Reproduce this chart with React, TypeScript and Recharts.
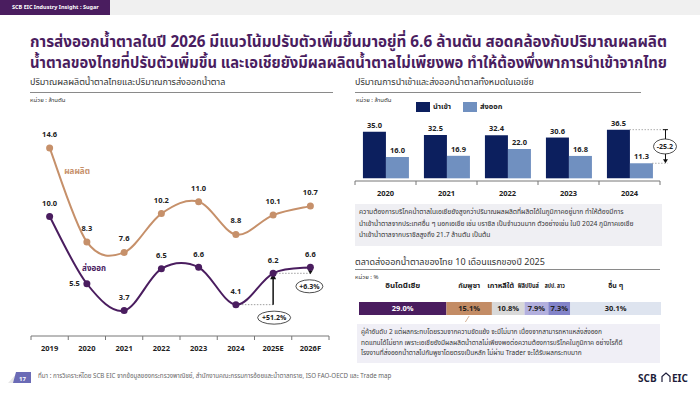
import React from 'react';
import { LineChart, Line, XAxis, YAxis, LabelList, ReferenceLine, BarChart, Bar } from 'recharts';

// ---------- DATA ----------
const years = ['2019', '2020', '2021', '2022', '2023', '2024', '2025E', '2026F'];
const production = [14.6, 8.3, 7.6, 10.2, 11.0, 8.8, 10.1, 10.7];
const exportsTH = [10.0, 5.5, 3.7, 6.5, 6.6, 4.1, 6.2, 6.6];

const asiaYears = ['2020', '2021', '2022', '2023', '2024'];
const asiaImport = [35.0, 32.5, 32.4, 30.6, 36.5];
const asiaExport = [16.0, 16.9, 22.0, 16.8, 11.3];

const marketKeys = ['indo', 'cambodia', 'korea', 'philippines', 'laos', 'others'];
const marketNames = ['อินโดนีเซีย', 'กัมพูชา', 'เกาหลีใต้', 'ฟิลิปปินส์', 'สปป. ลาว', 'อื่น ๆ'];
const marketShares = [29.0, 15.1, 10.8, 7.9, 7.3, 30.1];

// ---------- STYLE ----------
const FONT = "'Noto Sans Thai', 'Noto Sans Thai UI', 'Noto Sans', 'DejaVu Sans', sans-serif";
const PURPLE = '#4a1d5f';
const TAN = '#c6906a';
const NAVY = '#0c1f5e';
const LBLUE = '#7090c0';
const marketColors = ['#4a1d5f', '#c38c65', '#d9d9d9', '#b3b0de', '#8384c9', '#dee4ef'];
const marketText = ['#ffffff', '#222', '#222', '#222', '#222', '#222'];
const marketNameWidth = [35, 22, 27, 21, 20, 15];
const marketNameSize = [7.5, 7.5, 7.5, 7, 7, 7.5];
const marketDx = [0, 0, -7.5, -8, -4.5, 0];

const lineData = years.map((y, i) => ({ year: y, production: production[i], exports: exportsTH[i] }));
const asiaData = asiaYears.map((y, i) => ({ year: y, imp: asiaImport[i], exp: asiaExport[i] }));
const marketRow: any = { name: '2025' };
marketKeys.forEach((k, i) => (marketRow[k] = marketShares[i]));
const marketData = [marketRow];

// chart geometry constants
const LC = { w: 340, h: 270, m: { top: 27, right: 11, bottom: 4, left: 31 } };
const LC_BAND = (LC.w - LC.m.left - LC.m.right) / years.length;
const BC = { w: 340, h: 95, m: { top: 15, right: 20, bottom: 0, left: 15 } };
const BC_BAND = (BC.w - BC.m.left - BC.m.right) / asiaYears.length;

// Catmull-Rom style smoothing (like office smoothed lines)
const smoothCurve: any = (context: any) => {
  let pts: number[][] = [];
  return {
    areaStart() {},
    areaEnd() {},
    lineStart() { pts = []; },
    point(x: number, y: number) { pts.push([+x, +y]); },
    lineEnd() {
      const n = pts.length;
      if (!n) return;
      context.moveTo(pts[0][0], pts[0][1]);
      const t = 1 / 6;
      for (let i = 0; i < n - 1; i++) {
        const p0 = pts[i - 1] || pts[i];
        const p1 = pts[i];
        const p2 = pts[i + 1];
        const p3 = pts[i + 2] || p2;
        context.bezierCurveTo(
          p1[0] + (p2[0] - p0[0]) * t, p1[1] + (p2[1] - p0[1]) * t,
          p2[0] - (p3[0] - p1[0]) * t, p2[1] - (p3[1] - p1[1]) * t,
          p2[0], p2[1]
        );
      }
    },
  };
};

const boundaryTick = (band: number, count: number, dy: number, stroke: string) => (props: any) => {
  const { x, y, payload, index } = props;
  return (
    <g>
      <line x1={x - band / 2} y1={y} x2={x - band / 2} y2={y + 4} stroke={stroke} strokeWidth={1} />
      {index === count - 1 && <line x1={x + band / 2} y1={y} x2={x + band / 2} y2={y + 4} stroke={stroke} strokeWidth={1} />}
      <text x={x} y={y + dy} textAnchor="middle" fontSize={7.5} fontWeight={700} fill="#222" fontFamily={FONT}>
        {payload.value}
      </text>
    </g>
  );
};

const lineLabel = (lift: number, leftIdx: number) => (props: any) => {
  const { x, y, value, index } = props;
  if (index === leftIdx) {
    return (
      <text x={x - 7} y={y + 2.7} textAnchor="end" fontSize={7.5} fontWeight={700} fill="#222" fontFamily={FONT}>
        {Number(value).toFixed(1)}
      </text>
    );
  }
  return (
    <text x={x} y={y - lift} textAnchor="middle" fontSize={7.5} fontWeight={700} fill="#222" fontFamily={FONT}>
      {Number(value).toFixed(1)}
    </text>
  );
};

const badge = (cx: number, cy: number, rx: number, ry: number, label: string) => (
  <g>
    <ellipse cx={cx} cy={cy} rx={rx} ry={ry} fill="#fff" stroke="#222" strokeWidth={0.8} />
    <text x={cx} y={cy + 2.5} textAnchor="middle" fontSize={7} fontWeight={700} fill="#222" fontFamily={FONT}>
      {label}
    </text>
  </g>
);

// arrow from bottom pointing up, badge below bottom
const upArrow = (label: string, rx: number) => (p: any) => {
  const x = p.x1;
  const yb = Math.max(p.y1, p.y2);
  const yt = Math.min(p.y1, p.y2);
  return (
    <g>
      <line x1={x} y1={yb} x2={x} y2={yt + 5} stroke="#111" strokeWidth={1.5} />
      <path d={`M${x - 3},${yt + 6} L${x},${yt} L${x + 3},${yt + 6} Z`} fill="#111" />
      {badge(x + 1, yb + 13, rx, 6.5, label)}
    </g>
  );
};

const downArrowShort = (label: string, rx: number) => (p: any) => {
  const x = p.x1;
  const yb = Math.max(p.y1, p.y2);
  const yt = Math.min(p.y1, p.y2);
  return (
    <g>
      <line x1={x} y1={yt} x2={x} y2={yb - 2} stroke="#111" strokeWidth={1.2} />
      <path d={`M${x - 2.5},${yb - 3} L${x},${yb + 1} L${x + 2.5},${yb - 3} Z`} fill="#111" />
      {badge(x - 1, yb + 13, rx, 6.5, label)}
    </g>
  );
};

const gapAnnotation = (label: string) => (p: any) => {
  const xc = p.x1;
  const yt = Math.min(p.y1, p.y2);
  const yb = Math.max(p.y1, p.y2);
  const half = BC_BAND * 0.37;
  const ax = xc + BC_BAND * 0.59;
  return (
    <g>
      <line x1={xc} y1={yt} x2={ax + 2} y2={yt} stroke="#999" strokeWidth={0.8} strokeDasharray="1.5 1.5" />
      <line x1={xc + half} y1={yb} x2={ax + 2} y2={yb} stroke="#999" strokeWidth={0.8} strokeDasharray="1.5 1.5" />
      <line x1={ax - 2.5} y1={yt} x2={ax + 2.5} y2={yt} stroke="#111" strokeWidth={1} />
      <line x1={ax} y1={yt} x2={ax} y2={yb - 3} stroke="#111" strokeWidth={1} />
      <path d={`M${ax - 2.5},${yb - 4} L${ax},${yb} L${ax + 2.5},${yb - 4} Z`} fill="#111" />
      {badge(ax - 0.5, (yt + yb) / 2, 11.5, 7.5, label)}
    </g>
  );
};

const marketLabel = (i: number) => (props: any) => {
  const { x, y, width, height } = props;
  const cx = x + width / 2;
  const nx = cx + marketDx[i];
  const w = marketNameWidth[i];
  return (
    <g>
      <text x={cx} y={y + height / 2 + 2.8} textAnchor="middle" fontSize={7.5} fontWeight={700} fill={marketText[i]} fontFamily={FONT}>
        {marketShares[i].toFixed(1)}%
      </text>
      <text x={nx - w / 2} y={y - 14} fontSize={marketNameSize[i]} fontWeight={700} fill="#222" fontFamily={FONT}
        textLength={w} lengthAdjust="spacingAndGlyphs">
        {marketNames[i]}
      </text>
      {i === 1 && <line x1={cx} y1={y + height + 1} x2={cx - 7} y2={y + height + 12} stroke={marketColors[1]} strokeWidth={0.7} />}
    </g>
  );
};

const abs = (left: number, top: number, extra: React.CSSProperties = {}): React.CSSProperties => ({
  position: 'absolute', left, top, ...extra,
});

const titleLines = [
  'การส่งออกน้ำตาลในปี 2026 มีแนวโน้มปรับตัวเพิ่มขึ้นมาอยู่ที่ 6.6 ล้านตัน สอดคล้องกับปริมาณผลผลิต',
  'น้ำตาลของไทยที่ปรับตัวเพิ่มขึ้น และเอเชียยังมีผลผลิตน้ำตาลไม่เพียงพอ ทำให้ต้องพึ่งพาการนำเข้าจากไทย',
];

export default function App() {
  return (
    <div style={{ position: 'absolute', left: 0, top: 0, width: 700, height: 394, background: '#fff', overflow: 'hidden', fontFamily: FONT, color: '#222' }}>
      {/* top band */}
      <div style={abs(0, 0, { width: 700, height: 15, background: '#f0f0f0' })} />
      <div style={abs(0, 0, { width: 110, height: 15, background: PURPLE, color: '#fff', fontSize: 5.5, fontWeight: 700, lineHeight: '15px', paddingLeft: 12, boxSizing: 'border-box', whiteSpace: 'nowrap' })}>
        SCB EIC Industry Insight : Sugar
      </div>

      {/* title */}
      <svg style={abs(0, 25)} width={700} height={50}>
        {titleLines.map((t, i) => (
          <text key={i} x={30} y={21.5 + i * 21} fontSize={15.4} fontWeight={700} fill={PURPLE} fontFamily={FONT}
            textLength={637} lengthAdjust="spacingAndGlyphs">
            {t}
          </text>
        ))}
      </svg>

      {/* left section headers */}
      <div style={abs(30, 76, { fontSize: 9, lineHeight: '13px', whiteSpace: 'nowrap', color: '#333' })}>ปริมาณผลผลิตน้ำตาลไทยและปริมาณการส่งออกน้ำตาล</div>
      <div style={abs(30, 92, { width: 303, height: 1, background: '#8a8a8a' })} />
      <div style={abs(30, 96, { fontSize: 6, lineHeight: '9px', whiteSpace: 'nowrap', color: '#333' })}>หน่วย : ล้านตัน</div>

      {/* series name labels */}
      <div style={abs(77, 166, { fontSize: 8, fontWeight: 700, color: TAN, lineHeight: '12px', whiteSpace: 'nowrap', transform: 'translateX(-50%)' })}>ผลผลิต</div>
      <div style={abs(94, 263, { fontSize: 8, fontWeight: 700, color: PURPLE, lineHeight: '12px', whiteSpace: 'nowrap', transform: 'translateX(-50%)' })}>ส่งออก</div>

      <div style={abs(0, 100)}>
        <LineChart width={LC.w} height={LC.h} data={lineData} margin={LC.m} style={{ overflow: 'visible' }}>
          <XAxis dataKey="year" scale="band" height={30} tickSize={0} tickMargin={0} axisLine={{ stroke: '#777' }} tickLine={false}
            tick={boundaryTick(LC_BAND, years.length, 15, '#777')} interval={0} />
          <YAxis hide domain={[2, 16]} />
          <ReferenceLine segment={[{ x: '2024', y: 4.1 }, { x: '2025E', y: 4.1 }]} stroke="#888" strokeWidth={0.8} strokeDasharray="1.5 1.5" ifOverflow="visible" />
          <ReferenceLine segment={[{ x: '2025E', y: 6.2 }, { x: '2026F', y: 6.2 }]} stroke="#888" strokeWidth={0.8} strokeDasharray="1.5 1.5" ifOverflow="visible" />
          <Line dataKey="production" type={smoothCurve} stroke={TAN} strokeWidth={2} isAnimationActive={false}
            dot={{ r: 3.5, fill: TAN, stroke: TAN, strokeWidth: 0 }} activeDot={false}>
            <LabelList dataKey="production" content={lineLabel(11, -1)} />
          </Line>
          <Line dataKey="exports" type={smoothCurve} stroke={PURPLE} strokeWidth={2} isAnimationActive={false}
            dot={{ r: 3.5, fill: PURPLE, stroke: PURPLE, strokeWidth: 0 }} activeDot={false}>
            <LabelList dataKey="exports" content={lineLabel(10.5, 1)} />
          </Line>
          <ReferenceLine segment={[{ x: '2025E', y: 4.1 }, { x: '2025E', y: 6.2 }]} ifOverflow="visible" shape={upArrow('+51.2%', 16.5)} />
          <ReferenceLine segment={[{ x: '2026F', y: 6.6 }, { x: '2026F', y: 6.2 }]} ifOverflow="visible" shape={downArrowShort('+6.3%', 13.5)} />
        </LineChart>
      </div>

      {/* right top headers */}
      <div style={abs(355, 76, { fontSize: 9, lineHeight: '13px', whiteSpace: 'nowrap', color: '#333' })}>ปริมาณการนำเข้าและส่งออกน้ำตาลทั้งหมดในเอเชีย</div>
      <div style={abs(355, 92, { width: 286, height: 1, background: '#8a8a8a' })} />
      <div style={abs(356, 96, { fontSize: 6, lineHeight: '9px', whiteSpace: 'nowrap', color: '#333' })}>หน่วย : ล้านตัน</div>

      {/* legend */}
      <div style={abs(416, 102, { width: 14, height: 10, background: NAVY })} />
      <div style={abs(433, 100, { fontSize: 7.5, fontWeight: 700, lineHeight: '13px', whiteSpace: 'nowrap' })}>นำเข้า</div>
      <div style={abs(463, 102, { width: 14, height: 10, background: LBLUE })} />
      <div style={abs(480, 100, { fontSize: 7.5, fontWeight: 700, lineHeight: '13px', whiteSpace: 'nowrap' })}>ส่งออก</div>

      <div style={abs(340, 110)}>
        <BarChart width={BC.w} height={BC.h} data={asiaData} margin={BC.m} barCategoryGap="13%" barGap={0} style={{ overflow: 'visible' }}>
          <XAxis dataKey="year" height={24} tickSize={0} tickMargin={0} axisLine={{ stroke: '#777' }} tickLine={false}
            tick={boundaryTick(BC_BAND, asiaYears.length, 15, '#777')} interval={0} />
          <YAxis hide domain={[-2, 40]} />
          <Bar dataKey="imp" fill={NAVY} isAnimationActive={false}>
            <LabelList dataKey="imp" position="top" offset={4} fontSize={7.5} fontWeight={700} fill="#222" fontFamily={FONT} formatter={(v: any) => Number(v).toFixed(1)} />
          </Bar>
          <Bar dataKey="exp" fill={LBLUE} isAnimationActive={false}>
            <LabelList dataKey="exp" position="top" offset={4} fontSize={7.5} fontWeight={700} fill="#222" fontFamily={FONT} formatter={(v: any) => Number(v).toFixed(1)} />
          </Bar>
          <ReferenceLine segment={[{ x: '2024', y: 36.5 }, { x: '2024', y: 11.3 }]} ifOverflow="visible" shape={gapAnnotation('-25.2')} />
        </BarChart>
      </div>

      {/* grey note box */}
      <div style={abs(355, 204, { width: 307, height: 42, background: '#efeff3', fontSize: 6.7, lineHeight: '11.5px', padding: '3px 0 0 4px', boxSizing: 'border-box', whiteSpace: 'nowrap', color: '#333' })}>
        ความต้องการบริโภคน้ำตาลในเอเชียยังสูงกว่าปริมาณผลผลิตที่ผลิตได้ในภูมิภาคอยู่มาก ทำให้ต้องมีการ<br />
        นำเข้าน้ำตาลจากประเทศอื่น ๆ นอกเอเชีย เช่น บราซิล เป็นจำนวนมาก ตัวอย่างเช่น ในปี 2024 ภูมิภาคเอเชีย<br />
        นำเข้าน้ำตาลจากบราซิลสูงถึง 21.7 ล้านตัน เป็นต้น
      </div>

      {/* right bottom headers */}
      <div style={abs(355, 256, { fontSize: 9, lineHeight: '13px', whiteSpace: 'nowrap', color: '#333' })}>ตลาดส่งออกน้ำตาลของไทย 10 เดือนแรกของปี 2025</div>
      <div style={abs(355, 269, { width: 305, height: 1, background: '#8a8a8a' })} />
      <div style={abs(355, 273, { fontSize: 6, lineHeight: '9px', whiteSpace: 'nowrap', color: '#333' })}>หน่วย : %</div>

      <div style={abs(340, 270)}>
        <BarChart width={340} height={52} data={marketData} layout="vertical" margin={{ top: 26, right: 19, bottom: 2, left: 19 }} barSize={13} style={{ overflow: 'visible' }}>
          <XAxis type="number" hide domain={[0, 'dataMax']} />
          <YAxis type="category" dataKey="name" width={0} tick={false} tickLine={false} axisLine={{ stroke: '#555', strokeWidth: 1.2 }} />
          {marketKeys.map((k, i) => (
            <Bar key={k} dataKey={k} stackId="a" fill={marketColors[i]} isAnimationActive={false}>
              <LabelList dataKey={k} content={marketLabel(i)} />
            </Bar>
          ))}
        </BarChart>
      </div>

      {/* callout box */}
      <div style={abs(357, 324, { width: 303, height: 39, background: '#f0eff6', fontSize: 6.5, lineHeight: '10.5px', padding: '3px 0 0 4px', boxSizing: 'border-box', whiteSpace: 'nowrap', color: '#333' })}>
        คู่ค้าอันดับ 2 แต่ผลกระทบโดยรวมจากความขัดแย้ง จะมีไม่มาก เนื่องจากสามารถหาแหล่งส่งออก<br />
        ทดแทนได้ไม่ยาก เพราะเอเชียยังมีผลผลิตน้ำตาลไม่เพียงพอต่อความต้องการบริโภคในภูมิภาค อย่างไรก็ดี<br />
        โรงงานที่ส่งออกน้ำตาลไปกัมพูชาโดยตรงเป็นหลัก ไม่ผ่าน Trader จะได้รับผลกระทบมาก
      </div>

      {/* footer */}
      <svg style={abs(6, 368)} width={30} height={18}>
        <path d="M2,15 L12,4 L12,15 Z" fill="#e6e6e6" />
        <path d="M7,15 L10,4 L25,4 L25,15 Z" fill="#6b6bb6" />
        <text x={16.5} y={12.5} textAnchor="middle" fontSize={6} fontWeight={700} fill="#fff" fontFamily={FONT}>17</text>
      </svg>
      <div style={abs(38, 372, { fontSize: 6.2, lineHeight: '9px', whiteSpace: 'nowrap', color: '#666' })}>
        ที่มา : การวิเคราะห์โดย SCB EIC จากข้อมูลของกระทรวงพาณิชย์, สำนักงานคณะกรรมการอ้อยและน้ำตาลทราย, ISO FAO-OECD และ Trade map
      </div>
      <svg style={abs(638, 370)} width={56} height={16}>
        <text x={0} y={12} fontSize={10} fontWeight={700} fill="#1d1d3a" fontFamily={FONT}>SCB</text>
        <path d="M24,12 L24,6.5 L28,3 L32,6.5 L32,12" fill="none" stroke="#1d1d3a" strokeWidth={1.2} />
        <text x={34} y={12} fontSize={10} fontWeight={700} fill="#1d1d3a" fontFamily={FONT}>EIC</text>
      </svg>
    </div>
  );
}
